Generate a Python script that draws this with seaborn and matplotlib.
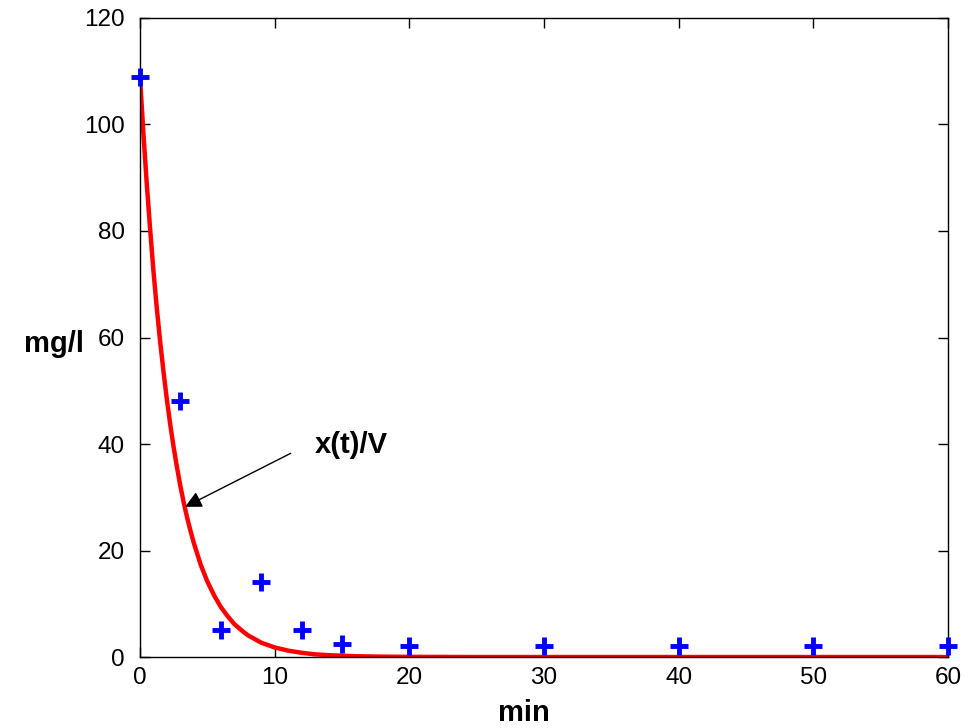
import numpy as np
import matplotlib
matplotlib.use('Agg')
import matplotlib.pyplot as plt
import seaborn as sns
import pandas as pd

# measured concentrations (blue crosses)
t_meas = [0, 3, 6, 9, 12, 15, 20, 30, 40, 50, 60]
c_meas = [109, 48, 5, 14, 5, 2.4, 2, 2, 2, 2, 2]

# model curve x(t)/V
t_model = [0, 0.25, 0.5, 0.75, 1, 1.25, 1.5, 1.75, 2, 2.25, 2.5, 2.75, 3, 3.25, 3.5,
           3.75, 4, 4.5, 5, 5.5, 6, 6.5, 7, 7.5, 8, 9, 10, 11, 12, 13, 14, 16, 18,
           20, 25, 30, 40, 50, 60]
c_model = [109, 98.5, 89, 80.5, 72.5, 65.5, 59.2, 53.5, 48.3, 43.6, 39.4, 35.6, 32.1,
           29.0, 26.2, 23.7, 21.4, 17.4, 14.2, 11.6, 9.4, 7.7, 6.2, 5.1, 4.1, 2.7,
           1.8, 1.2, 0.8, 0.5, 0.35, 0.15, 0.07, 0.03, 0.0, 0.0, 0.0, 0.0, 0.0]

xticks = [0, 10, 20, 30, 40, 50, 60]
yticks = [0, 20, 40, 60, 80, 100, 120]

sns.set_theme(style='white')
plt.rcParams['font.family'] = ['Liberation Sans', 'DejaVu Sans']
plt.rcParams['text.color'] = 'black'
plt.rcParams['axes.labelcolor'] = 'black'

fig = plt.figure(figsize=(9.68, 7.28), dpi=100)
ax = fig.add_axes([0.1446, 0.0975, 0.8347, 0.8778])

model = pd.DataFrame({'t': t_model, 'c': c_model})
meas = pd.DataFrame({'t': t_meas, 'c': c_meas})

sns.lineplot(data=model, x='t', y='c', color=(1, 0, 0), linewidth=3.2, ax=ax, zorder=2)
sns.scatterplot(data=meas, x='t', y='c', marker='+', s=150, linewidth=3.5,
                color=(0, 0, 1), ax=ax, zorder=3, clip_on=False)

ax.set_xlim(0, 60)
ax.set_ylim(0, 120)
ax.set_xticks(xticks)
ax.set_yticks(yticks)
ax.tick_params(direction='in', length=7, width=1, colors='black', labelcolor='black',
               labelsize=17.5, bottom=True, left=True, top=True, right=True, pad=7)
ax.tick_params(axis='y', pad=11)
for s in ax.spines.values():
    s.set_color('black')
    s.set_linewidth(1)

ax.set_xlabel('min', fontsize=21, fontweight='bold', va='baseline')
ax.set_ylabel('mg/l', fontsize=21, fontweight='bold', rotation=0, ha='center', va='center')
ax.xaxis.set_label_coords(0.475, -0.100)
ax.yaxis.set_label_coords(-0.107, 0.49)

ax.annotate('x(t)/V', xy=(3.35, 28.2), xytext=(13.0, 39.8),
            fontsize=21, fontweight='bold', ha='left', va='center',
            arrowprops=dict(arrowstyle='-|>', color='black', lw=1,
                            mutation_scale=25, shrinkA=2, shrinkB=0,
                            relpos=(-0.3, 0.25)))

fig.savefig('out.png', dpi=100)
